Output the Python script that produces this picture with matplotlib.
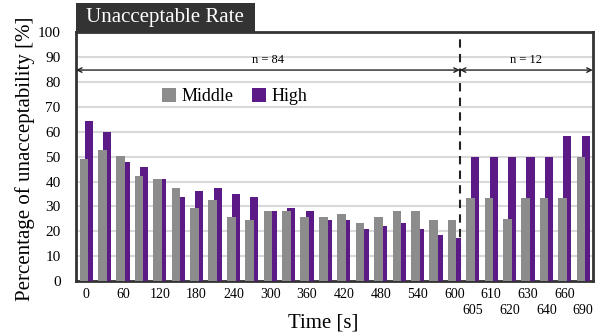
import matplotlib
matplotlib.use('Agg')
import matplotlib.pyplot as plt
from matplotlib.patches import Rectangle
import numpy as np

times = ["0", "30", "60", "90", "120", "150", "180", "210", "240", "270", "300",
         "330", "360", "390", "420", "450", "480", "510", "540", "570", "600",
         "605", "610", "620", "630", "640", "660", "690"]
middle = [49.1, 52.7, 50.4, 42.1, 40.9, 37.3, 29.2, 32.7, 25.6, 24.5, 28.0,
          28.0, 25.6, 25.6, 26.9, 23.3, 25.7, 28.0, 28.0, 24.5, 24.5,
          33.3, 33.3, 25.0, 33.3, 33.3, 33.3, 50.0]
high = [64.3, 59.7, 48.0, 45.7, 40.9, 33.9, 36.3, 37.3, 35.1, 33.9, 28.0,
        29.3, 28.0, 24.5, 24.5, 21.1, 22.1, 23.3, 21.1, 18.7, 17.3,
        50.0, 50.0, 50.0, 50.0, 50.0, 58.3, 58.3]
n_labels = ["n = 84", "n = 12"]

plt.rcParams['font.family'] = ['Liberation Serif', 'DejaVu Serif']

GREY = '#8c8c8c'
PURPLE = '#5c1a86'
FRAME = '#333333'

fig = plt.figure(figsize=(6.03, 3.36), dpi=100)
ax = fig.add_axes([0.126, 0.163, 0.857, 0.742])

x = np.arange(len(times))
ax.bar(x + 0.14, high, width=0.44, color=PURPLE, zorder=3, label='High')
ax.bar(x - 0.12, middle, width=0.47, color=GREY, zorder=4, label='Middle')

ax.set_xlim(-0.55, len(times) - 0.48)
ax.set_ylim(0, 100)
ax.set_yticks(np.arange(0, 101, 10))
ax.grid(axis='y', color='#d9d9d9', linewidth=1.5, zorder=0)
ax.set_axisbelow(True)

# tick labels: every other one up to 600, then alternating two rows
top_t, top_l, low_t, low_l = [], [], [], []
for i, t in enumerate(times):
    if i % 2 == 0:
        top_t.append(i)
        top_l.append(t)
    elif i > 20:
        low_t.append(i)
        low_l.append(t)
ax.set_xticks(top_t)
ax.set_xticklabels(top_l)
ax.set_xticks(low_t, minor=True)
ax.set_xticklabels(low_l, minor=True)
ax.tick_params(axis='both', which='both', length=0, labelsize=10)
ax.tick_params(axis='y', pad=11, labelsize=11)
ax.tick_params(axis='x', which='major', pad=5)
ax.tick_params(axis='x', which='minor', pad=16.5)

for s in ax.spines.values():
    s.set_color(FRAME)
    s.set_linewidth(2)

fig.text(0.536, 0.039, "Time [s]", fontsize=15, ha='center', va='center')
fig.text(0.041, 0.527, "Percentage of unacceptability [%]", fontsize=15,
         rotation=90, ha='center', va='center')

# boundary between the two phases
split = 20.3
ax.axvline(split, color='#222222', linestyle=(0, (4, 3)), linewidth=1.5, zorder=2)
x0, x1 = ax.get_xlim()
arrow_y = 84.7
for (a, b), lab in zip([(x0, split), (split, x1)], n_labels):
    ax.annotate('', xy=(a, arrow_y), xytext=(b, arrow_y),
                arrowprops=dict(arrowstyle='<->', lw=1.0, color='#222222',
                                shrinkA=0, shrinkB=0, mutation_scale=8))
    ax.text((a + b) / 2, arrow_y + 1.5, lab, ha='center', va='bottom', fontsize=9)

handles, labels = ax.get_legend_handles_labels()
ax.legend(handles[::-1], labels[::-1], loc='upper left', bbox_to_anchor=(0.135, 0.84),
          ncol=2, frameon=False, fontsize=13, handlelength=0.8, handleheight=0.8,
          handletextpad=0.3, columnspacing=1.0)

# title tab
fig.patches.append(Rectangle((0.126, 0.905), 0.297, 0.085, transform=fig.transFigure,
                             facecolor=FRAME, edgecolor='none'))
fig.text(0.142, 0.947, "Unacceptable Rate", color='white', fontsize=15,
         ha='left', va='center')

fig.savefig("out.png", dpi=100)
